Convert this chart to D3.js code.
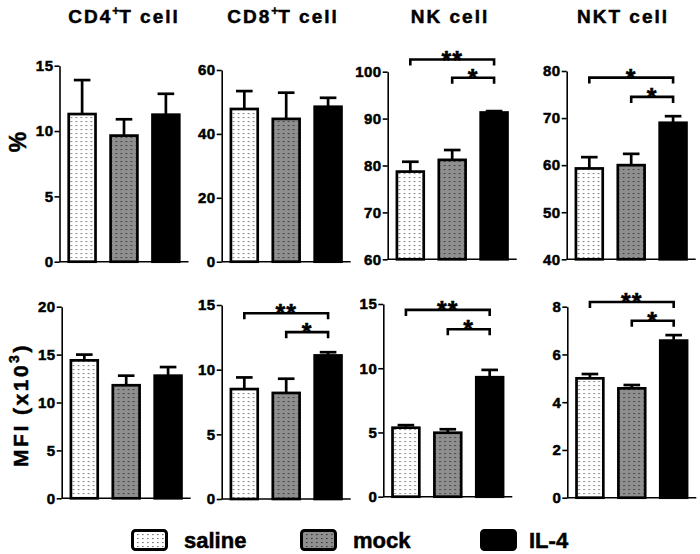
<!DOCTYPE html>
<html>
<head>
<meta charset="utf-8">
<script src="https://cdn.jsdelivr.net/npm/d3@7"></script>
<style>
  html, body { margin: 0; padding: 0; background: #fff; }
  svg text { font-family: 'Liberation Sans', Arial, sans-serif; font-weight: bold; fill: #000; stroke: #000; stroke-width: 0.5px; }
</style>
</head>
<body>
<div id="chart"></div>
<script>
// groups (legend order)
const groups = ['saline', 'mock', 'IL-4'];

// panel titles: [prefix, superscript, suffix]
const titles = [['CD4', '+', 'T cell'], ['CD8', '+', 'T cell'], ['NK cell', '', ''], ['NKT cell', '', '']];

// % of cells (top row) - mean and SEM per group
const cd4PctMean = [11.3, 9.65, 11.25];
const cd4PctSem = [2.6, 1.25, 1.6];
const cd8PctMean = [47.8, 44.7, 48.5];
const cd8PctSem = [5.6, 8.2, 2.8];
const nkPctMean = [78.7, 81.2, 91.3];
const nkPctSem = [2.1, 2.1, 0.3];
const nktPctMean = [59.3, 60.0, 69.0];
const nktPctSem = [2.4, 2.4, 1.4];

// MFI x10^3 (bottom row)
const cd4MfiMean = [14.4, 11.8, 12.8];
const cd4MfiSem = [0.6, 1.0, 0.9];
const cd8MfiMean = [8.5, 8.2, 11.1];
const cd8MfiSem = [0.9, 1.1, 0.25];
const nkMfiMean = [5.37, 4.98, 9.3];
const nkMfiSem = [0.2, 0.27, 0.57];
const nktMfiMean = [5.0, 4.58, 6.58];
const nktMfiSem = [0.18, 0.14, 0.23];

// y axis domains and tick values
const pctDomains = [[0, 15], [0, 60], [60, 100], [40, 80]];
const pctTicks = [[0, 5, 10, 15], [0, 20, 40, 60], [60, 70, 80, 90, 100], [40, 50, 60, 70, 80]];
const mfiDomains = [[0, 20], [0, 15], [0, 15], [0, 8]];
const mfiTicks = [[0, 5, 10, 15, 20], [0, 5, 10, 15], [0, 5, 10, 15], [0, 2, 4, 6, 8]];

// significance brackets: [fromGroup, toGroup, y value, label]
const nkPctSig = [[0, 2, 102.6, '**'], [1, 2, 98.7, '*']];
const nktPctSig = [[0, 2, 78.6, '*'], [1, 2, 74.5, '*']];
const cd8MfiSig = [[0, 2, 14.36, '**'], [1, 2, 12.9, '*']];
const nkMfiSig = [[0, 2, 14.54, '**'], [1, 2, 13.04, '*']];
const nktMfiSig = [[0, 2, 8.2, '**'], [1, 2, 7.41, '*']];

const panels = [
  { mean: cd4PctMean, sem: cd4PctSem, domain: pctDomains[0], ticks: pctTicks[0], sig: [], x: 59.5, top: 65.7, bottom: 261.7 },
  { mean: cd8PctMean, sem: cd8PctSem, domain: pctDomains[1], ticks: pctTicks[1], sig: [], x: 221.7, top: 70, bottom: 261.7 },
  { mean: nkPctMean, sem: nkPctSem, domain: pctDomains[2], ticks: pctTicks[2], sig: nkPctSig, x: 387.7, top: 71.7, bottom: 259.3 },
  { mean: nktPctMean, sem: nktPctSem, domain: pctDomains[3], ticks: pctTicks[3], sig: nktPctSig, x: 566.7, top: 71, bottom: 259.3 },
  { mean: cd4MfiMean, sem: cd4MfiSem, domain: mfiDomains[0], ticks: mfiTicks[0], sig: [], x: 61.7, top: 306.7, bottom: 498.3 },
  { mean: cd8MfiMean, sem: cd8MfiSem, domain: mfiDomains[1], ticks: mfiTicks[1], sig: cd8MfiSig, x: 221.7, top: 305, bottom: 499 },
  { mean: nkMfiMean, sem: nkMfiSem, domain: mfiDomains[2], ticks: mfiTicks[2], sig: nkMfiSig, x: 383.3, top: 304, bottom: 496.7 },
  { mean: nktMfiMean, sem: nktMfiSem, domain: mfiDomains[3], ticks: mfiTicks[3], sig: nktMfiSig, x: 567.3, top: 306.7, bottom: 497.7 }
];

const titleX = [124, 283, 450, 623];
const plotW = 129;

const svg = d3.select('#chart').append('svg')
  .attr('width', 700)
  .attr('height', 554);

// fill patterns
const defs = svg.append('defs');
function dotPattern(id, bg, dot) {
  const p = defs.append('pattern')
    .attr('id', id)
    .attr('patternUnits', 'userSpaceOnUse')
    .attr('width', 5).attr('height', 4);
  p.append('rect').attr('width', 5).attr('height', 4).attr('fill', bg);
  p.append('rect').attr('x', 1).attr('y', 1).attr('width', 1.6).attr('height', 1.1).attr('fill', dot);
}
dotPattern('pat-saline', '#fff', '#777');
dotPattern('pat-mock', '#8f8f8f', '#3a3a3a');
const fills = ['url(#pat-saline)', 'url(#pat-mock)', '#000'];

panels.forEach((p, i) => {
  const g = svg.append('g').attr('transform', `translate(${p.x},0)`);

  const x = d3.scaleBand()
    .domain(groups)
    .range([0, plotW])
    .paddingInner(0.36)
    .paddingOuter(0.22);

  const y = d3.scaleLinear()
    .domain(p.domain)
    .range([p.bottom, p.top]);

  // bars
  g.selectAll('.bar')
    .data(groups)
    .enter().append('rect')
    .attr('class', 'bar')
    .attr('x', d => x(d))
    .attr('width', x.bandwidth())
    .attr('y', (d, j) => y(p.mean[j]))
    .attr('height', (d, j) => y(p.domain[0]) - y(p.mean[j]))
    .attr('fill', (d, j) => fills[j])
    .attr('stroke', '#000')
    .attr('stroke-width', 2.7);

  // error bars (upper only)
  const capW = x.bandwidth() * 0.62;
  groups.forEach((d, j) => {
    const cx = x(d) + x.bandwidth() / 2;
    g.append('line')
      .attr('x1', cx).attr('x2', cx)
      .attr('y1', y(p.mean[j])).attr('y2', y(p.mean[j] + p.sem[j]))
      .attr('stroke', '#000').attr('stroke-width', 2.7);
    g.append('line')
      .attr('x1', cx - capW / 2).attr('x2', cx + capW / 2)
      .attr('y1', y(p.mean[j] + p.sem[j])).attr('y2', y(p.mean[j] + p.sem[j]))
      .attr('stroke', '#000').attr('stroke-width', 2.7);
  });

  // y axis
  const yAxis = g.append('g')
    .call(d3.axisLeft(y).tickValues(p.ticks).tickSize(5).tickSizeOuter(0).tickPadding(1));
  yAxis.attr('font-family', null).attr('font-size', null);
  yAxis.select('.domain').attr('stroke-width', 1.6);
  yAxis.selectAll('.tick line').attr('stroke-width', 1.6);
  yAxis.selectAll('.tick text')
    .style('font-size', '15px')
    .style('letter-spacing', '0.5px');

  // x axis baseline
  g.append('line')
    .attr('x1', 0).attr('x2', plotW)
    .attr('y1', y(p.domain[0])).attr('y2', y(p.domain[0]))
    .attr('stroke', '#000').attr('stroke-width', 1.6);

  // significance brackets
  p.sig.forEach(s => {
    const x1 = x(groups[s[0]]) + x.bandwidth() / 2;
    const x2 = x(groups[s[1]]) + x.bandwidth() / 2;
    const yy = y(s[2]);
    g.append('path')
      .attr('d', `M${x1},${yy + 6}V${yy}H${x2}V${yy + 6}`)
      .attr('fill', 'none')
      .attr('stroke', '#000')
      .attr('stroke-width', 2.6);
    g.append('text')
      .attr('x', (x1 + x2) / 2)
      .attr('y', yy + 9)
      .attr('text-anchor', 'middle')
      .style('font-size', '25px')
      .style('letter-spacing', '1px')
      .text(s[3]);
  });
});

// titles
titles.forEach((t, i) => {
  const txt = svg.append('text')
    .attr('x', titleX[i])
    .attr('y', 23)
    .attr('text-anchor', 'middle')
    .style('font-size', '19px')
    .style('letter-spacing', '2px');
  txt.append('tspan').text(t[0]);
  if (t[1]) {
    txt.append('tspan').attr('dy', -8).style('font-size', '12px').style('letter-spacing', '0px').text(t[1]);
    txt.append('tspan').attr('dy', 8).text(t[2]);
  }
});

// y axis labels
svg.append('text')
  .attr('transform', 'translate(26,142) rotate(-90)')
  .attr('text-anchor', 'middle')
  .style('font-size', '23px')
  .text('%');

const mfi = svg.append('text')
  .attr('transform', 'translate(28,405) rotate(-90)')
  .attr('text-anchor', 'middle')
  .style('font-size', '21px')
  .style('letter-spacing', '2.5px');
mfi.append('tspan').text('MFI (x10');
mfi.append('tspan').attr('dy', -9).style('font-size', '14px').text('3');
mfi.append('tspan').attr('dy', 9).text(')');

// legend
const legendX = [131, 300, 480];
groups.forEach((gname, i) => {
  const lg = svg.append('g').attr('transform', `translate(${legendX[i]},529)`);
  lg.append('rect')
    .attr('x', 1.5).attr('y', 1.5)
    .attr('width', 34).attr('height', 19)
    .attr('rx', 3)
    .attr('fill', fills[i])
    .attr('stroke', '#000')
    .attr('stroke-width', 3);
  lg.append('text')
    .attr('x', i === 2 ? 49 : 53)
    .attr('y', 19)
    .style('font-size', '22px')
    .text(gname);
});
</script>
</body>
</html>
